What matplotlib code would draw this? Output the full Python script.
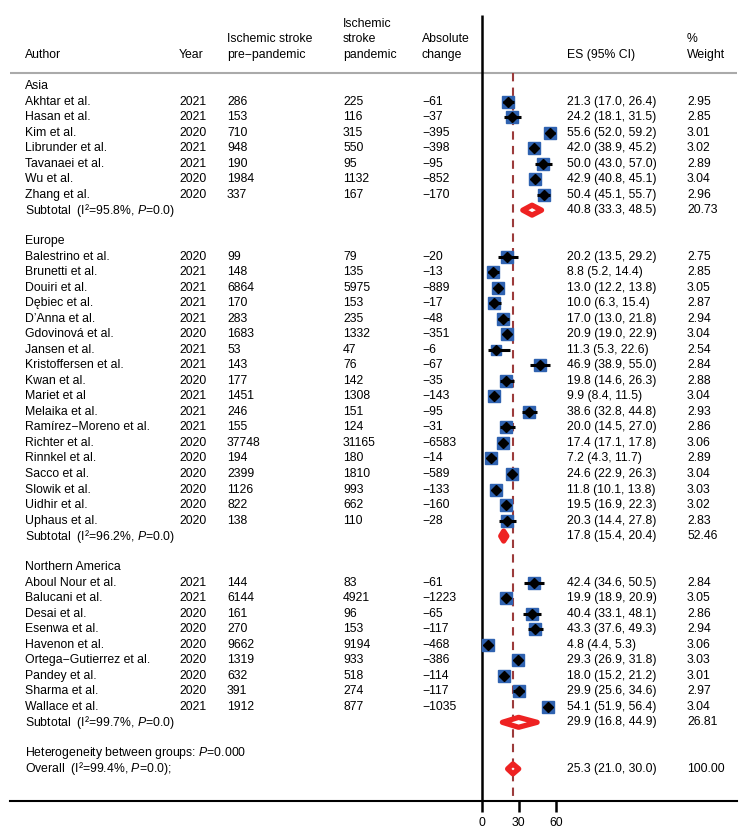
import matplotlib
matplotlib.use("Agg")
import matplotlib.pyplot as plt
import matplotlib.transforms as mtransforms

plt.rcParams['font.family'] = ['Liberation Sans', 'DejaVu Sans']
plt.rcParams['mathtext.fontset'] = 'custom'
plt.rcParams['mathtext.rm'] = 'Liberation Sans'
plt.rcParams['mathtext.it'] = 'Liberation Sans:italic'

# study data
regions = ['Asia', 'Europe', 'Northern America']

authors = ['Akhtar et al.', 'Hasan et al.', 'Kim et al.', 'Librunder et al.', 'Tavanaei et al.',
           'Wu et al.', 'Zhang et al.',
           'Balestrino et al.', 'Brunetti et al.', 'Douiri et al.', 'Dębiec et al.', 'D’Anna et al.',
           'Gdovinová et al.', 'Jansen et al.', 'Kristoffersen et al.', 'Kwan et al.', 'Mariet et al',
           'Melaika et al.', 'Ramírez\u2212Moreno et al.', 'Richter et al.', 'Rinnkel et al.',
           'Sacco et al.', 'Slowik et al.', 'Uidhir et al.', 'Uphaus et al.',
           'Aboul Nour et al.', 'Balucani et al.', 'Desai et al.', 'Esenwa et al.', 'Havenon et al.',
           'Ortega\u2212Gutierrez et al.', 'Pandey et al.', 'Sharma et al.', 'Wallace et al.']
study_region = [0] * 7 + [1] * 18 + [2] * 9
years = [2021, 2021, 2020, 2021, 2021, 2020, 2020,
         2020, 2021, 2021, 2021, 2021, 2020, 2021, 2021, 2020, 2021, 2021, 2021, 2020, 2020,
         2020, 2020, 2020, 2020,
         2021, 2021, 2020, 2020, 2020, 2020, 2020, 2020, 2021]
pre_pandemic = [286, 153, 710, 948, 190, 1984, 337,
                99, 148, 6864, 170, 283, 1683, 53, 143, 177, 1451, 246, 155, 37748, 194,
                2399, 1126, 822, 138,
                144, 6144, 161, 270, 9662, 1319, 632, 391, 1912]
pandemic = [225, 116, 315, 550, 95, 1132, 167,
            79, 135, 5975, 153, 235, 1332, 47, 76, 142, 1308, 151, 124, 31165, 180,
            1810, 993, 662, 110,
            83, 4921, 96, 153, 9194, 933, 518, 274, 877]
abs_change = [-61, -37, -395, -398, -95, -852, -170,
              -20, -13, -889, -17, -48, -351, -6, -67, -35, -143, -95, -31, -6583, -14,
              -589, -133, -160, -28,
              -61, -1223, -65, -117, -468, -386, -114, -117, -1035]
es = [21.3, 24.2, 55.6, 42.0, 50.0, 42.9, 50.4,
      20.2, 8.8, 13.0, 10.0, 17.0, 20.9, 11.3, 46.9, 19.8, 9.9, 38.6, 20.0, 17.4, 7.2,
      24.6, 11.8, 19.5, 20.3,
      42.4, 19.9, 40.4, 43.3, 4.8, 29.3, 18.0, 29.9, 54.1]
ci_low = [17.0, 18.1, 52.0, 38.9, 43.0, 40.8, 45.1,
          13.5, 5.2, 12.2, 6.3, 13.0, 19.0, 5.3, 38.9, 14.6, 8.4, 32.8, 14.5, 17.1, 4.3,
          22.9, 10.1, 16.9, 14.4,
          34.6, 18.9, 33.1, 37.6, 4.4, 26.9, 15.2, 25.6, 51.9]
ci_high = [26.4, 31.5, 59.2, 45.2, 57.0, 45.1, 55.7,
           29.2, 14.4, 13.8, 15.4, 21.8, 22.9, 22.6, 55.0, 26.3, 11.5, 44.8, 27.0, 17.8, 11.7,
           26.3, 13.8, 22.3, 27.8,
           50.5, 20.9, 48.1, 49.3, 5.3, 31.8, 21.2, 34.6, 56.4]
weights = [2.95, 2.85, 3.01, 3.02, 2.89, 3.04, 2.96,
           2.75, 2.85, 3.05, 2.87, 2.94, 3.04, 2.54, 2.84, 2.88, 3.04, 2.93, 2.86, 3.06, 2.89,
           3.04, 3.03, 3.02, 2.83,
           2.84, 3.05, 2.86, 2.94, 3.06, 3.03, 3.01, 2.97, 3.04]

# subtotals per region
sub_i2 = ['95.8', '96.2', '99.7']
sub_es = [40.8, 17.8, 29.9]
sub_low = [33.3, 15.4, 16.8]
sub_high = [48.5, 20.4, 44.9]
sub_weight = [20.73, 52.46, 26.81]

overall_i2 = '99.4'
overall_es = 25.3
overall_low = 21.0
overall_high = 30.0
overall_weight = 100.00
het_p = '0.000'

ticks = [0, 30, 60]

# layout (pixels)
W, H = 752, 836
x_zero = 481.7
px_per_unit = 1.234
row0_px = 86
row_px = 15.52

col_author = 25
col_year = 179
col_pre = 227
col_pand = 343
col_abs = 422
col_es = 567
col_w = 687

fs = 8.8
blue = '#2f62b0'
red = '#ee2222'


def px2x(px):
    return (px - x_zero) / px_per_unit


def px2row(py):
    return (py - row0_px) / row_px


def minus(v):
    return str(v).replace('-', '\u2212')


fig = plt.figure(figsize=(W / 100, H / 100), dpi=100)
ax = fig.add_axes([0, 0, 1, 1])
ax.set_xlim(px2x(0), px2x(W))
ax.set_ylim(px2row(H), px2row(0))
tr = mtransforms.blended_transform_factory(fig.transFigure, ax.transData)


def txt(px, row, s, **kw):
    ax.text(px / W, row, s, transform=tr, fontsize=fs, va='center', ha='left', **kw)


# header
txt(col_author, -2, 'Author')
txt(col_year, -2, 'Year')
txt(col_pre, -3, 'Ischemic stroke')
txt(col_pre, -2, 'pre\u2212pandemic')
txt(col_pand, -4, 'Ischemic')
txt(col_pand, -3, 'stroke')
txt(col_pand, -2, 'pandemic')
txt(col_abs, -3, 'Absolute')
txt(col_abs, -2, 'change')
txt(col_es, -2, 'ES (95% CI)')
txt(col_w, -3, '%')
txt(col_w, -2, 'Weight')

ax.hlines(px2row(73.3), px2x(10), px2x(737), color='#aaaaaa', lw=1.5)


def diamond(c, lo, hi, row):
    h = 0.32
    ax.fill([lo, c, hi, c, lo], [row, row - h, row, row + h, row],
            facecolor='white', edgecolor=red, lw=3.8, joinstyle='round', zorder=4)


row = 0
for r, name in enumerate(regions):
    txt(col_author, row, name)
    row += 1
    for i in range(len(authors)):
        if study_region[i] != r:
            continue
        txt(col_author, row, authors[i])
        txt(col_year, row, str(years[i]))
        txt(col_pre, row, str(pre_pandemic[i]))
        txt(col_pand, row, str(pandemic[i]))
        txt(col_abs, row, minus(abs_change[i]))
        txt(col_es, row, f'{es[i]:.1f} ({ci_low[i]:.1f}, {ci_high[i]:.1f})')
        txt(col_w, row, f'{weights[i]:.2f}')
        ms = 8.6 * (weights[i] / 3.0) ** 0.5
        ax.plot(es[i], row, marker='s', ms=ms, color=blue, mec=blue, zorder=3)
        ax.hlines(row, ci_low[i], ci_high[i], color='black', lw=2.2, zorder=4)
        ax.plot(es[i], row, marker='D', ms=5, color='black', zorder=5)
        row += 1
    txt(col_author, row, f'Subtotal  (I\u00b2={sub_i2[r]}%, $\\it{{P}}$=0.0)')
    txt(col_es, row, f'{sub_es[r]:.1f} ({sub_low[r]:.1f}, {sub_high[r]:.1f})')
    txt(col_w, row, f'{sub_weight[r]:.2f}')
    diamond(sub_es[r], sub_low[r], sub_high[r], row)
    row += 2

txt(col_author, row, f'Heterogeneity between groups: $\\it{{P}}$={het_p}')
row += 1
txt(col_author, row, f'Overall  (I\u00b2={overall_i2}%, $\\it{{P}}$=0.0);')
txt(col_es, row, f'{overall_es:.1f} ({overall_low:.1f}, {overall_high:.1f})')
txt(col_w, row, f'{overall_weight:.2f}')
diamond(overall_es, overall_low, overall_high, row)

axis_row = px2row(800.7)
ax.vlines(0, px2row(15), axis_row, color='black', lw=1.8, zorder=2)
ax.vlines(overall_es, px2row(73.3), axis_row, color='#9c3b3b', lw=1.5,
          linestyles=(0, (4, 3)), zorder=2)

for s in ['top', 'left', 'right']:
    ax.spines[s].set_visible(False)
ax.spines['bottom'].set_position(('data', axis_row))
ax.spines['bottom'].set_bounds(px2x(10), px2x(737))
ax.spines['bottom'].set_linewidth(1.5)
ax.set_xticks(ticks)
ax.set_yticks([])
ax.tick_params(axis='x', direction='out', length=8, width=1.8, labelsize=fs, pad=4)

fig.savefig('out.png', dpi=100)
